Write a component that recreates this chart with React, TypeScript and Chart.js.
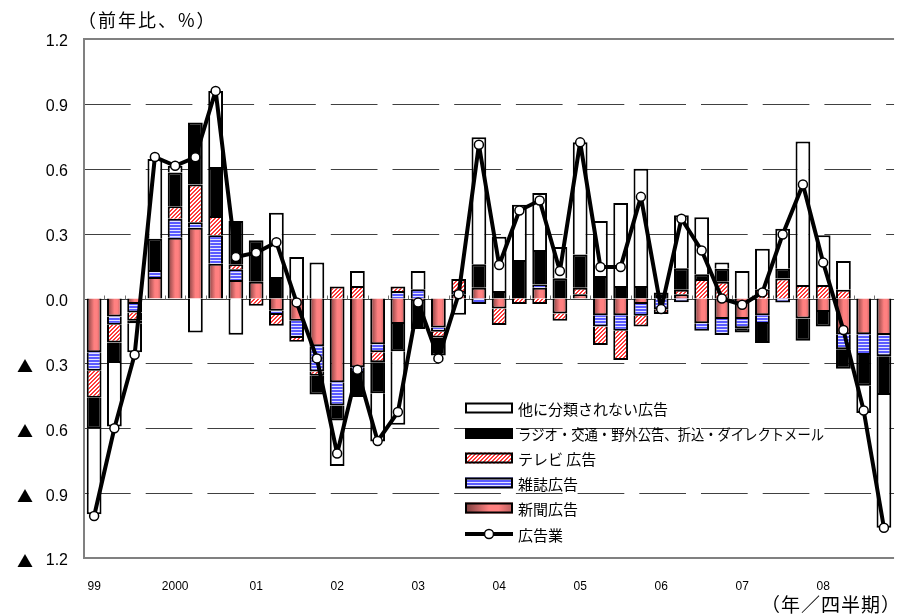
import React, { useEffect, useRef } from 'react';
import { Chart, registerables } from 'chart.js';

Chart.register(...registerables);

// ---- data ----
const years = ['99', '2000', '01', '02', '03', '04', '05', '06', '07', '08'];
const quarters = ['I', 'II', 'III', 'IV'];
const categories = years.flatMap((y) => quarters.map((q) => `${y}/${q}`));

const newspaper = [
  -0.249, -0.083, -0.026, 0.100, 0.281, 0.327, 0.161, 0.086,
  0.077, -0.057, -0.103, -0.221, -0.387, -0.318, -0.211, -0.118,
  -0.012, -0.134, 0.020, 0.050, -0.046, 0.000, 0.050, -0.069,
  0.020, -0.077, -0.077, -0.026, 0.000, 0.020, -0.114, -0.095,
  -0.095, -0.077, 0.000, -0.092, -0.062, -0.165, -0.165, -0.169,
];
const magazine = [
  -0.085, -0.038, -0.039, 0.032, 0.088, 0.026, 0.132, 0.049,
  0.000, -0.019, -0.080, -0.117, -0.108, -0.026, -0.038, 0.035,
  0.043, -0.020, 0.015, -0.026, 0.000, 0.000, 0.015, 0.000,
  0.000, -0.053, -0.072, -0.054, -0.050, -0.017, -0.035, -0.074,
  -0.042, -0.041, -0.018, 0.000, 0.000, -0.070, -0.096, -0.098,
];
const television = [
  -0.125, -0.082, -0.038, 0.000, 0.058, 0.174, 0.088, 0.023,
  -0.034, -0.050, -0.017, -0.019, 0.055, 0.058, -0.046, 0.020,
  0.000, -0.026, 0.055, 0.000, -0.076, -0.026, -0.026, -0.034,
  0.030, -0.085, -0.135, -0.049, -0.022, 0.020, 0.090, 0.077,
  0.000, 0.043, 0.092, 0.063, 0.063, 0.040, 0.000, 0.000,
];
const radioEtc = [
  -0.143, -0.095, -0.012, 0.144, 0.156, 0.287, 0.227, 0.200,
  0.192, 0.100, 0.000, -0.087, -0.069, -0.112, -0.143, -0.126,
  -0.129, -0.084, 0.000, 0.108, 0.035, 0.178, 0.159, 0.094,
  0.154, 0.104, 0.058, 0.058, 0.028, 0.100, 0.022, 0.061,
  -0.020, -0.088, 0.046, -0.103, -0.067, -0.090, -0.142, -0.179,
];
const otherAds = [
  -0.396, -0.294, -0.134, 0.369, 0.031, -0.157, 0.352, -0.168,
  0.000, 0.296, 0.192, 0.166, -0.210, 0.069, -0.223, -0.340,
  0.084, 0.000, -0.075, 0.588, 0.251, 0.255, 0.264, 0.144,
  0.518, 0.254, 0.384, 0.542, 0.000, 0.245, 0.264, 0.028,
  0.127, 0.187, 0.185, 0.663, 0.230, 0.133, -0.126, -0.614,
];
const adIndustry = [
  -1.006, -0.600, -0.260, 0.654, 0.614, 0.653, 0.960, 0.192,
  0.212, 0.260, -0.018, -0.277, -0.717, -0.330, -0.659, -0.525,
  -0.018, -0.277, 0.020, 0.711, 0.155, 0.407, 0.453, 0.127,
  0.722, 0.146, 0.146, 0.470, -0.049, 0.369, 0.222, 0.000,
  -0.029, 0.028, 0.296, 0.527, 0.166, -0.146, -0.518, -1.060,
];

const labelNewspaper = '新聞広告';
const labelMagazine = '雑誌広告';
const labelTV = 'テレビ 広告';
const labelRadio = 'ラジオ・交通・野外公告、折込・ダイレクトメール';
const labelOther = '他に分類されない広告';
const labelIndustry = '広告業';
const yTitle = '（前年比、%）';
const xTitle = '（年／四半期）';
const negMark = '▲';

const Y_MIN = -1.2;
const Y_MAX = 1.2;
const Y_STEP = 0.3;

// ---- styles ----
const BAR_PCT = 0.73;
const CJK = '"Noto Sans CJK JP", "Noto Sans", sans-serif';
const LATIN = '"Liberation Sans", Arial, sans-serif';

function paperGradient(ctx: CanvasRenderingContext2D, x0: number, x1: number) {
  const g = ctx.createLinearGradient(x0, 0, x1, 0);
  g.addColorStop(0, '#7a3c3c');
  g.addColorStop(0.5, '#ff8080');
  g.addColorStop(0.7, '#ff8080');
  g.addColorStop(1, '#b85c5c');
  return g;
}

function makeStripe(ctx: CanvasRenderingContext2D) {
  const c = document.createElement('canvas');
  c.width = 4;
  c.height = 3;
  const g = c.getContext('2d')!;
  g.fillStyle = '#e4e4ff';
  g.fillRect(0, 0, 4, 3);
  g.fillStyle = '#5a5aff';
  g.fillRect(0, 0, 4, 2);
  return ctx.createPattern(c, 'repeat')!;
}

function makeHatch(ctx: CanvasRenderingContext2D) {
  const c = document.createElement('canvas');
  c.width = 4;
  c.height = 4;
  const g = c.getContext('2d')!;
  g.fillStyle = '#ffffff';
  g.fillRect(0, 0, 4, 4);
  g.fillStyle = '#ff3a3a';
  for (let x = 0; x < 4; x++) {
    for (let y = 0; y < 4; y++) {
      if ((x + y) % 4 < 2) g.fillRect(x, y, 1, 1);
    }
  }
  return ctx.createPattern(c, 'repeat')!;
}

export default function App() {
  const ref = useRef<HTMLCanvasElement | null>(null);

  useEffect(() => {
    const canvas = ref.current!;
    const ctx2d = canvas.getContext('2d')!;
    const stripe = makeStripe(ctx2d);
    const hatch = makeHatch(ctx2d);

    const paperFill = (c: any) => {
      const chart = c.chart;
      const xs = chart.scales?.x;
      if (c.type !== 'data' || !xs || !xs.width) return '#ff8080';
      const cx = xs.getPixelForValue(c.dataIndex);
      const half = ((xs.width / categories.length) * BAR_PCT) / 2;
      return paperGradient(chart.ctx, cx - half, cx + half);
    };

    const barCommon = {
      type: 'bar' as const,
      stack: 'ads',
      borderColor: '#000000',
      borderWidth: 2,
      borderSkipped: 'start' as const,
      barPercentage: BAR_PCT,
      categoryPercentage: 1,
      order: 2,
    };

    const decor = {
      id: 'decor',
      beforeDatasetsDraw(chart: any) {
        const { ctx, chartArea: a, scales } = chart;
        const ys = scales.y;
        const xs = scales.x;
        ctx.save();
        // dashed grid lines
        ctx.strokeStyle = '#404040';
        ctx.lineWidth = 1;
        ctx.setLineDash([46.7, 15]);
        for (const t of ys.ticks) {
          const v = t.value;
          if (Math.abs(v) < 1e-6 || Math.abs(Math.abs(v) - Y_MAX) < 1e-6) continue;
          const y = Math.round(ys.getPixelForValue(v)) + 0.5;
          ctx.beginPath();
          ctx.moveTo(a.left, y);
          ctx.lineTo(a.right, y);
          ctx.stroke();
        }
        ctx.setLineDash([]);
        // zero line
        const y0 = Math.round(ys.getPixelForValue(0)) + 0.5;
        ctx.strokeStyle = '#404040';
        ctx.beginPath();
        ctx.moveTo(a.left, y0);
        ctx.lineTo(a.right, y0);
        ctx.stroke();
        // small category ticks on the zero line
        ctx.strokeStyle = '#707070';
        const step = xs.width / categories.length;
        for (let i = 1; i < categories.length; i++) {
          const x = Math.round(a.left + step * i) + 0.5;
          ctx.beginPath();
          ctx.moveTo(x, y0);
          ctx.lineTo(x, y0 - 4);
          ctx.stroke();
        }
        // frame
        ctx.strokeStyle = '#808080';
        ctx.lineWidth = 2;
        ctx.beginPath();
        ctx.moveTo(a.right, a.top);
        ctx.lineTo(a.left, a.top);
        ctx.lineTo(a.left, a.bottom);
        ctx.lineTo(a.right, a.bottom);
        ctx.stroke();

        // y tick labels (number in latin font, negative mark in CJK font)
        ctx.fillStyle = '#000';
        ctx.textBaseline = 'middle';
        for (const t of ys.ticks) {
          const v = Math.round(t.value * 10) / 10;
          const y = ys.getPixelForValue(t.value) + 3;
          ctx.font = `16px ${LATIN}`;
          ctx.textAlign = 'right';
          ctx.fillText(Math.abs(v).toFixed(1), a.left - 16, y);
          if (v < 0) {
            ctx.font = `16px ${CJK}`;
            ctx.textAlign = 'center';
            ctx.fillText(negMark, 25, y);
          }
        }
        ctx.restore();
      },
      afterDraw(chart: any) {
        const { ctx } = chart;
        ctx.save();
        ctx.fillStyle = '#000';
        ctx.textBaseline = 'middle';
        ctx.font = `18px ${CJK}`;
        (ctx as any).letterSpacing = '2px';
        ctx.textAlign = 'left';
        ctx.fillText(yTitle, 78, 20);
        ctx.textAlign = 'right';
        ctx.font = `19px ${CJK}`;
        (ctx as any).letterSpacing = '1px';
        ctx.fillText(xTitle, 901, 605);
        (ctx as any).letterSpacing = '0px';

        // legend
        const bx = 465;
        const bw = 48;
        const bh = 11;
        const tx = 518;
        const rows = [
          { label: labelOther, fill: '#ffffff', y: 408 },
          { label: labelRadio, fill: '#000000', y: 433.5 },
          { label: labelTV, fill: hatch, y: 458 },
          { label: labelMagazine, fill: stripe, y: 483 },
          { label: labelNewspaper, fill: 'paper', y: 508 },
        ];
        ctx.textAlign = 'left';
        ctx.font = `15px ${CJK}`;
        for (const r of rows) {
          const top = r.y - bh / 2;
          ctx.fillStyle = r.fill === 'paper' ? paperGradient(ctx, bx, bx + bw) : (r.fill as any);
          ctx.fillRect(bx, top, bw, bh);
          ctx.strokeStyle = '#000';
          ctx.lineWidth = 2;
          ctx.strokeRect(bx + 1, top + 1, bw - 2, bh - 2);
          ctx.fillStyle = '#000';
          ctx.fillText(r.label, tx, r.y + 1, 306);
        }
        const ly = 534;
        ctx.strokeStyle = '#000';
        ctx.lineWidth = 4;
        ctx.beginPath();
        ctx.moveTo(bx, ly);
        ctx.lineTo(bx + bw, ly);
        ctx.stroke();
        ctx.beginPath();
        ctx.arc(bx + bw / 2, ly, 4.5, 0, Math.PI * 2);
        ctx.fillStyle = '#fff';
        ctx.fill();
        ctx.lineWidth = 1.5;
        ctx.stroke();
        ctx.fillStyle = '#000';
        ctx.fillText(labelIndustry, tx, ly + 1);
        ctx.restore();
      },
    };

    const chart = new Chart(canvas, {
      type: 'bar',
      data: {
        labels: categories,
        datasets: [
          { ...barCommon, label: labelNewspaper, data: newspaper, backgroundColor: paperFill },
          { ...barCommon, label: labelMagazine, data: magazine, backgroundColor: stripe },
          { ...barCommon, label: labelTV, data: television, backgroundColor: hatch },
          { ...barCommon, label: labelRadio, data: radioEtc, backgroundColor: '#000000' },
          { ...barCommon, label: labelOther, data: otherAds, backgroundColor: '#ffffff' },
          {
            type: 'line',
            label: labelIndustry,
            data: adIndustry,
            stack: 'line',
            borderColor: '#000000',
            borderWidth: 4,
            borderJoinStyle: 'round',
            pointRadius: 4.5,
            pointBorderWidth: 1.5,
            pointBackgroundColor: '#ffffff',
            pointBorderColor: '#000000',
            tension: 0,
            order: 1,
          } as any,
        ],
      },
      options: {
        responsive: false,
        animation: false,
        layout: { padding: { top: 39, left: 0, right: 0, bottom: 0 } },
        plugins: {
          legend: { display: false },
          tooltip: { enabled: false },
          title: { display: false },
        },
        scales: {
          x: {
            stacked: true,
            grid: { display: false, drawTicks: false },
            border: { display: false },
            ticks: {
              autoSkip: false,
              maxRotation: 0,
              padding: 21,
              color: '#000',
              font: { family: '"Liberation Sans Narrow", "Liberation Sans", Arial, sans-serif', size: 12 },
              callback: (_v: any, i: number) => (i % 4 === 0 ? years[i / 4] : ''),
            },
            afterFit: (s: any) => {
              s.height = 58;
            },
          },
          y: {
            stacked: true,
            min: Y_MIN,
            max: Y_MAX,
            grid: { display: false, drawTicks: false },
            border: { display: false },
            ticks: {
              stepSize: Y_STEP,
              color: 'rgba(0,0,0,0)',
              font: { family: LATIN, size: 16 },
            },
            afterFit: (s: any) => {
              s.width = 84;
            },
          },
        },
      },
      plugins: [decor],
    });

    return () => chart.destroy();
  }, []);

  return (
    <div style={{ position: 'absolute', left: 0, top: 0, width: 905, height: 616, background: '#fff' }}>
      <canvas ref={ref} width={905} height={616} style={{ display: 'block' }} />
    </div>
  );
}
